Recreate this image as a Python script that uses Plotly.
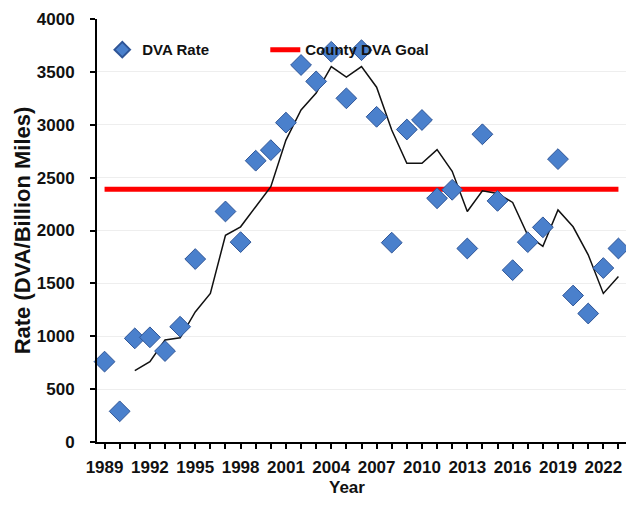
import plotly.graph_objects as go

# Yearly DVA rate (diamonds). 1996 has no marker in the chart.
years = list(range(1989, 2024))
dva_rate = [760, 290, 980, 990, 860, 1090, 1730, None, 2180, 1890,
            2660, 2760, 3020, 3565, 3410, 3690, 3250, 3705, 3075, 1885,
            2955, 3045, 2305, 2385, 1830, 2910, 2280, 1625, 1890, 2030,
            2675, 1385, 1215, 1645, 1830]

# Trend line (starts in 1991).
avg_years = list(range(1991, 2024))
avg_rate = [675, 760, 965, 985, 1230, 1405, 1955, 2035, 2225, 2415,
            2855, 3140, 3300, 3550, 3450, 3550, 3355, 2950, 2635, 2635,
            2765, 2560, 2180, 2375, 2350, 2265, 1955, 1850, 2195, 2035,
            1770, 1405, 1565]

goal_years = [1989, 2023]
goal_rate = [2390, 2390]

font_family = "Liberation Sans, Arial, sans-serif"

fig = go.Figure()

fig.add_trace(go.Scatter(
    x=goal_years, y=goal_rate, mode="lines", name="County DVA Goal",
    line=dict(color="#ff0000", width=5),
))
fig.add_trace(go.Scatter(
    x=avg_years, y=avg_rate, mode="lines", showlegend=False,
    line=dict(color="#111111", width=1.5),
))
fig.add_trace(go.Scatter(
    x=years, y=dva_rate, mode="markers", name="DVA Rate",
    marker=dict(symbol="diamond", size=16, color="#4a80cc",
                line=dict(color="#2f5597", width=1)),
    cliponaxis=False,
))

# the page body adds an 8px margin, so the figure is made smaller to fit
fig.update_layout(
    width=618, height=490,
    margin=dict(l=89, r=0, t=11, b=56),
    paper_bgcolor="white", plot_bgcolor="white",
    font=dict(family=font_family, color="#111111"),
    showlegend=True,
    legend=dict(orientation="h", x=0.01, y=0.927, xanchor="left", yanchor="middle",
                traceorder="reversed", entrywidth=118, itemsizing="constant",
                font=dict(size=15, weight="bold"), bgcolor="rgba(0,0,0,0)"),
)

# x axis title sits a bit left of centre in the original
fig.add_annotation(text="Year", xref="paper", yref="paper", x=0.473, y=0,
                   yshift=-45, showarrow=False, xanchor="center", yanchor="middle",
                   font=dict(size=17, weight="bold"))

fig.update_xaxes(
    range=[1988.5, 2023.5], tick0=1989, dtick=3, automargin=False,
    showline=True, linecolor="black", linewidth=2,
    ticks="outside", ticklen=5, tickwidth=1.5, tickcolor="black",
    minor=dict(dtick=1, ticks="outside", ticklen=5, tickwidth=1.5, tickcolor="black"),
    showgrid=False, zeroline=False,
    tickfont=dict(size=17, weight="bold"), ticklabelstandoff=4,
)

fig.update_yaxes(
    range=[0, 4000], dtick=500, automargin=False,
    showline=True, linecolor="black", linewidth=2,
    ticks="outside", ticklen=5, tickwidth=1.5, tickcolor="black",
    showgrid=True, gridcolor="#eeeeee", gridwidth=1, zeroline=False,
    tickfont=dict(size=17, weight="bold"), ticklabelstandoff=12,
    title=dict(text="Rate (DVA/Billion Miles)", font=dict(size=22, weight="bold"),
               standoff=0),
)

fig.write_html("out.html")
